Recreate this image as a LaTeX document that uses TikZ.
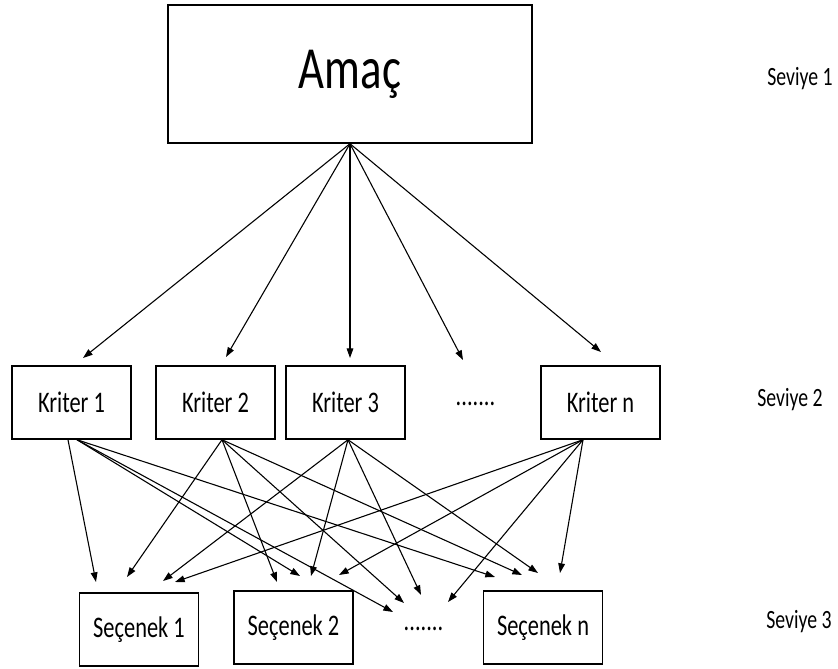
\documentclass[tikz,border=0pt]{standalone}
\usepackage{fontspec}
\setmainfont{Carlito}[FakeStretch=0.75]
\usetikzlibrary{arrows.meta,calc}

\begin{document}
\begin{tikzpicture}[x=0.02cm,y=-0.02cm,
        goal/.style={draw, line width=0.85pt, minimum width=7.28cm, minimum height=2.76cm, font=\fontsize{34}{40}\selectfont},
        crit/.style={draw, line width=0.85pt, minimum width=2.38cm, minimum height=1.46cm, inner sep=0pt, font=\fontsize{17}{20}\selectfont},
        lvl/.style={font=\fontsize{15}{18}\selectfont},
        gap/.style={font=\fontsize{17}{20}\selectfont},
        arr/.style={-{Triangle[length=5.5pt,width=3.8pt]}, line width=0.62pt}]
  \useasboundingbox (0,0) rectangle (838,669);

  % levels
  \node[goal] (amac) at (350,74) {Amaç};
  \node[crit] (k1) at (71.5,402.5) {Kriter 1};
  \node[crit] (k2) at (215.5,402.5) {Kriter 2};
  \node[crit] (k3) at (345.5,402.5) {Kriter 3};
  \node[gap] (kd) at (475.5,404) {.......};
  \node[crit] (kn) at (600.5,402.5) {Kriter n};
  \node[crit] (s1) at (139,629.5) {Seçenek 1};
  \node[crit] (s2) at (293.5,627.5) {Seçenek 2};
  \node[gap] (sd) at (423.5,629) {.......};
  \node[crit] (sn) at (543,627.5) {Seçenek n};
  \node[lvl] (lv1) at (800,79) {Seviye 1};
  \node[lvl] (lv2) at (790,400) {Seviye 2};
  \node[lvl] (lv3) at (799,622) {Seviye 3};

  % free arrow ends
  \coordinate (ak1) at (83,358);
  \coordinate (ak2) at (226,357);
  \coordinate (ak3) at (350,358);
  \coordinate (akd) at (463,360);
  \coordinate (akn) at (601,352);
  \coordinate (k1s1) at (96,582);
  \coordinate (k1s2) at (300,576);
  \coordinate (k1sd) at (393,612);
  \coordinate (k1sn) at (495,577);
  \coordinate (k2s1) at (127,577);
  \coordinate (k2s2) at (277,582);
  \coordinate (k2sd) at (404,603);
  \coordinate (k2sn) at (522,575);
  \coordinate (k3s1) at (163,581);
  \coordinate (k3s2) at (311,576);
  \coordinate (k3sd) at (421,595);
  \coordinate (k3sn) at (538,573);
  \coordinate (kns1) at (175,582);
  \coordinate (kns2) at (339,575);
  \coordinate (knsd) at (448,602);
  \coordinate (knsn) at (560,573);

  % amac to kriter
  \draw[arr] (amac.south) -- (ak1);
  \draw[arr] (amac.south) -- (ak2);
  \draw[arr] (amac.south) -- (ak3);
  \draw[arr] (amac.south) -- (akd);
  \draw[arr] (amac.south) -- (akn);

  % kriter to secenek
  \draw[arr] ($(k1.south)+(-3.5,0)$) -- (k1s1);
  \draw[arr] ($(k1.south)+(5.5,0)$) -- (k1s2);
  \draw[arr] ($(k1.south)+(5.5,0)$) -- (k1sd);
  \draw[arr] ($(k1.south)+(5.5,0)$) -- (k1sn);
  \draw[arr] ($(k2.south)+(6.5,0)$) -- (k2s1);
  \draw[arr] ($(k2.south)+(6.5,0)$) -- (k2s2);
  \draw[arr] ($(k2.south)+(6.5,0)$) -- (k2sd);
  \draw[arr] ($(k2.south)+(6.5,0)$) -- (k2sn);
  \draw[arr] ($(k3.south)+(2.5,0)$) -- (k3s1);
  \draw[arr] ($(k3.south)+(2.5,0)$) -- (k3s2);
  \draw[arr] ($(k3.south)+(2.5,0)$) -- (k3sd);
  \draw[arr] ($(k3.south)+(2.5,0)$) -- (k3sn);
  \draw[arr] ($(kn.south)+(-17.5,0)$) -- (kns1);
  \draw[arr] ($(kn.south)+(-17.5,0)$) -- (kns2);
  \draw[arr] ($(kn.south)+(-17.5,0)$) -- (knsd);
  \draw[arr] ($(kn.south)+(-17.5,0)$) -- (knsn);
\end{tikzpicture}
\end{document}
